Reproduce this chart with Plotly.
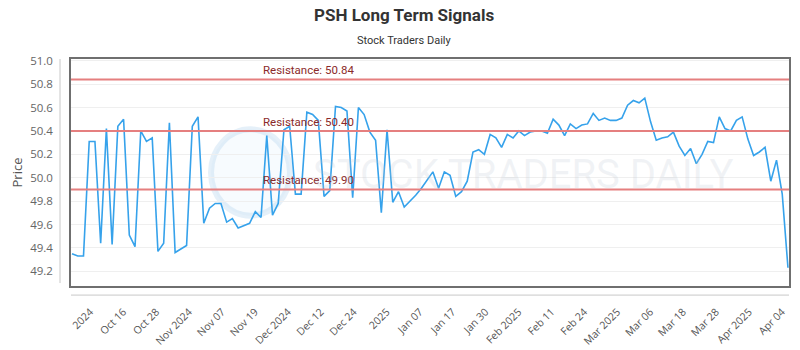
import plotly.graph_objects as go

# ---- data ----
prices = [
    49.35, 49.33, 49.33, 50.31, 50.31, 49.44, 50.42, 49.43, 50.44, 50.50,
    49.51, 49.41, 50.40, 50.31, 50.34, 49.37, 49.44, 50.47, 49.36, 49.39,
    49.42, 50.44, 50.52, 49.61, 49.74,
    49.78, 49.78, 49.62, 49.65, 49.57, 49.59, 49.61, 49.71, 49.66, 50.36,
    49.68, 49.78, 50.41, 50.44, 49.86, 49.86, 50.56, 50.54, 50.49, 49.84,
    49.89, 50.61, 50.60, 50.57, 49.83,
    50.60, 50.54, 50.39, 50.32, 49.70, 50.41, 49.79, 49.88, 49.75, 49.80,
    49.85, 49.91, 49.98, 50.05, 49.91, 50.05, 50.02, 49.84, 49.88, 49.97,
    50.22, 50.24, 50.20, 50.37, 50.34,
    50.26, 50.37, 50.34, 50.40, 50.36, 50.39, 50.40, 50.40, 50.38, 50.50,
    50.45, 50.36, 50.46, 50.42, 50.45, 50.46, 50.55, 50.49, 50.51, 50.49,
    50.49, 50.51, 50.62, 50.66, 50.64,
    50.68, 50.48, 50.32, 50.34, 50.35, 50.39, 50.27, 50.19, 50.25, 50.12,
    50.20, 50.31, 50.30, 50.52, 50.42, 50.40, 50.49, 50.52, 50.33, 50.19,
    50.22, 50.26, 49.97, 50.15, 49.86, 49.23,
]
tick_labels = ["2024", "Oct 16", "Oct 28", "Nov 2024", "Nov 07", "Nov 19",
               "Dec 2024", "Dec 12", "Dec 24", "2025", "Jan 07", "Jan 17",
               "Jan 30", "Feb 2025", "Feb 11", "Feb 24", "Mar 2025", "Mar 06",
               "Mar 18", "Mar 28", "Apr 2025", "Apr 04"]
resistance_levels = [50.84, 50.40, 49.90]

x_idx = list(range(len(prices)))
tick_pos = [3.2 + 5.75 * k for k in range(len(tick_labels))]

fig = go.Figure()
fig.add_trace(go.Scatter(
    x=x_idx, y=prices, mode="lines",
    line=dict(color="#36a2eb", width=1.6),
    hoverinfo="y", showlegend=False,
))

for lvl in resistance_levels:
    fig.add_hline(y=lvl, line=dict(color="#e57f7f", width=2), layer="above")
    fig.add_annotation(
        x=0.2646, xref="paper", y=lvl, yref="y",
        text=f"Resistance: {lvl:.2f}", showarrow=False,
        xanchor="left", yanchor="bottom", yshift=0,
        font=dict(family="Roboto", size=11.5, color="#8b2a2a"),
    )

# titles (plot area: left 71px, width 718px; top 59px, height 227px)
fig.add_annotation(x=(404 - 71) / 718, xref="paper", y=1 + (59 - 15) / 227, yref="paper",
                   yanchor="middle", text="<b>PSH Long Term Signals</b>", showarrow=False,
                   font=dict(family="Roboto", size=17, color="#333333"))
fig.add_annotation(x=(404 - 71) / 718, xref="paper", y=1 + (59 - 40) / 227, yref="paper",
                   yanchor="middle", showarrow=False, text="Stock Traders Daily",
                   font=dict(family="Roboto", size=11, color="#333333"))

# watermark
fig.add_annotation(
    x=0.63, xref="paper", y=0.49, yref="paper",
    text="STOCK TRADERS DAILY", showarrow=False,
    font=dict(family="Roboto", size=40, color="rgba(190,200,210,0.22)"),
)
fig.add_shape(type="circle", xref="paper", yref="paper",
              x0=0.195, x1=0.305, y0=0.31, y1=0.69,
              line=dict(color="rgba(170,205,235,0.3)", width=6),
              fillcolor="rgba(200,225,245,0.15)", layer="below")

# offset axis lines
fig.add_shape(type="line", xref="paper", yref="paper",
              x0=-0.0153, x1=-0.0153, y0=0.013, y1=1.0,
              line=dict(color="#c8c8c8", width=1))
fig.add_shape(type="line", xref="paper", yref="paper",
              x0=0.0, x1=1.0, y0=-0.04, y1=-0.04,
              line=dict(color="#c8c8c8", width=1))

fig.update_layout(
    width=800, height=350,
    margin=dict(l=71, r=11, t=59, b=64),
    paper_bgcolor="white", plot_bgcolor="white",
    xaxis=dict(
        range=[-0.18, 125.18], automargin=False,
        tickmode="array", tickvals=tick_pos, ticktext=tick_labels,
        tickangle=-45, ticks="outside", ticklen=14, tickcolor="rgba(0,0,0,0)",
        tickfont=dict(family="Open Sans", size=10.5, color="#555555"),
        showgrid=False, zeroline=False,
        showline=True, mirror=True, linecolor="#6f6f6f", linewidth=1.5,
    ),
    yaxis=dict(
        range=[49.074, 51.015], automargin=False,
        tickmode="array", tickvals=[49.2 + 0.2 * k for k in range(10)],
        ticktext=[f"{49.2 + 0.2 * k:.1f}" for k in range(10)],
        ticks="outside", ticklen=14, tickcolor="rgba(0,0,0,0)",
        tickfont=dict(family="Open Sans", size=11.5, color="#666666"),
        showgrid=True, gridcolor="#efefef", gridwidth=1, zeroline=False,
        showline=True, mirror=True, linecolor="#6f6f6f", linewidth=1.5,
        title=dict(text="Price", font=dict(family="Open Sans", size=13, color="#555555"),
                   standoff=5),
    ),
)

fig.write_html("out.html")
